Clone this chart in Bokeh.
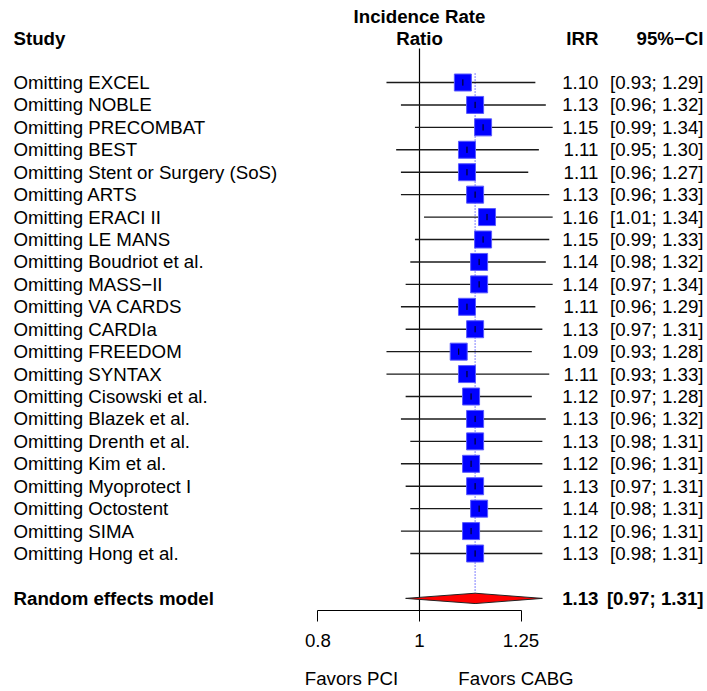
import numpy as np
from bokeh.plotting import figure
from bokeh.models import ColumnDataSource, Range1d, LogAxis, FixedTicker, Label
from bokeh.embed import file_html
from bokeh.resources import INLINE
from bokeh.core.properties import value

# ---------------- data ----------------
studies = ["Omitting EXCEL", "Omitting NOBLE", "Omitting PRECOMBAT", "Omitting BEST",
           "Omitting Stent or Surgery (SoS)", "Omitting ARTS", "Omitting ERACI II",
           "Omitting LE MANS", "Omitting Boudriot et al.", "Omitting MASS\u2212II",
           "Omitting VA CARDS", "Omitting CARDIa", "Omitting FREEDOM", "Omitting SYNTAX",
           "Omitting Cisowski et al.", "Omitting Blazek et al.", "Omitting Drenth et al.",
           "Omitting Kim et al.", "Omitting Myoprotect I", "Omitting Octostent",
           "Omitting SIMA", "Omitting Hong et al."]
irr = [1.10, 1.13, 1.15, 1.11, 1.11, 1.13, 1.16, 1.15, 1.14, 1.14, 1.11,
       1.13, 1.09, 1.11, 1.12, 1.13, 1.13, 1.12, 1.13, 1.14, 1.12, 1.13]
lower = [0.93, 0.96, 0.99, 0.95, 0.96, 0.96, 1.01, 0.99, 0.98, 0.97, 0.96,
         0.97, 0.93, 0.93, 0.97, 0.96, 0.98, 0.96, 0.97, 0.98, 0.96, 0.98]
upper = [1.29, 1.32, 1.34, 1.30, 1.27, 1.33, 1.34, 1.33, 1.32, 1.34, 1.29,
         1.31, 1.28, 1.33, 1.28, 1.32, 1.31, 1.31, 1.31, 1.31, 1.31, 1.31]
pooled_label = "Random effects model"
pooled_est = 1.13
pooled_lo = 0.97
pooled_hi = 1.31
tick_values = [0.8, 1.0, 1.25]
tick_labels = ["0.8", "1", "1.25"]
label_left = "Favors PCI"
label_right = "Favors CABG"

# ---------------- layout helpers ----------------
W, H = 707, 691
PX_ONE = 419.0      # px of ratio 1
PX_PER_LN = 455.0   # px per natural-log unit
PY_ROW0 = 82.0      # px of first row
ROW_PX = 22.43      # px per row


def xd(px):
    return float(np.exp((px - PX_ONE) / PX_PER_LN))


def yd(py):
    return (py - PY_ROW0) / ROW_PX


FONT_NAME = "Liberation Sans"
FONT = value(FONT_NAME)
FS = "18.7px"

n = len(studies)
rows = list(range(n))
pooled_row = n + 1
axis_row = yd(610)

src = ColumnDataSource(dict(
    study=studies, irr=irr, lower=lower, upper=upper, row=rows,
    row_lo=[r - 0.14 for r in rows], row_hi=[r + 0.14 for r in rows],
    irr_txt=[f"{v:.2f}" for v in irr],
    ci_txt=[f"[{l:.2f}; {u:.2f}]" for l, u in zip(lower, upper)],
))

p = figure(width=W, height=H, x_axis_type="log",
           x_range=Range1d(xd(0), xd(W)), y_range=Range1d(yd(H), yd(0)),
           x_axis_location=None, y_axis_location=None,
           output_backend="svg", toolbar_location=None, min_border=0,
           outline_line_color=None)
p.grid.visible = False

# reference line at 1 and pooled dotted line
p.segment(x0=[1.0], y0=[yd(48)], x1=[1.0], y1=[axis_row], line_color="black", line_width=1.2)
p.segment(x0=[pooled_est], y0=[-0.4], x1=[pooled_est], y1=[pooled_row - 0.25],
          line_color="blue", line_width=1, line_dash="1 2")

# CI lines, squares, small ticks
p.segment(x0="lower", y0="row", x1="upper", y1="row", source=src,
          line_color="#1a1a1a", line_width=1.4)
p.scatter(x="irr", y="row", source=src, marker="square", size=17,
          fill_color="#0000ff", line_color="#5a5aff", line_width=1)
p.segment(x0="irr", y0="row_lo", x1="irr", y1="row_hi", source=src,
          line_color="black", line_width=1)

# pooled diamond
p.patch(x=[pooled_lo, pooled_est, pooled_hi, pooled_est],
        y=[pooled_row, pooled_row - 0.23, pooled_row, pooled_row + 0.23],
        fill_color="#ff0000", line_color="#222222", line_width=1)

# text columns
p.text(x=xd(13), y="row", text="study", source=src, text_align="left",
       text_baseline="middle", text_font=FONT, text_font_size=FS, text_color="black")
p.text(x=xd(598), y="row", text="irr_txt", source=src, text_align="right",
       text_baseline="middle", text_font=FONT, text_font_size=FS, text_color="black")
p.text(x=xd(703), y="row", text="ci_txt", source=src, text_align="right",
       text_baseline="middle", text_font=FONT, text_font_size=FS, text_color="black")


def lab(x, y, text, align, bold=False):
    p.add_layout(Label(x=x, y=y, text=text, text_align=align, text_baseline="middle",
                       text_font=FONT_NAME, text_font_size=FS, text_color="black",
                       text_font_style="bold" if bold else "normal"))


lab(xd(13), pooled_row, pooled_label, "left", True)
lab(xd(598), pooled_row, f"{pooled_est:.2f}", "right", True)
lab(xd(703), pooled_row, f"[{pooled_lo:.2f}; {pooled_hi:.2f}]", "right", True)

# headers
lab(xd(13), yd(38), "Study", "left", True)
lab(1.0, yd(16), "Incidence Rate", "center", True)
lab(1.0, yd(38), "Ratio", "center", True)
lab(xd(598), yd(38), "IRR", "right", True)
lab(xd(703), yd(38), "95%\u2212CI", "right", True)

# x axis
ax = LogAxis(fixed_location=axis_row, bounds=(tick_values[0], tick_values[-1]),
             ticker=FixedTicker(ticks=tick_values, minor_ticks=[]),
             major_label_overrides={v: t for v, t in zip(tick_values, tick_labels)},
             axis_line_color="black", axis_line_width=1,
             major_tick_line_color="black", major_tick_out=11, major_tick_in=0,
             minor_tick_out=0, minor_tick_in=0,
             major_label_standoff=12, major_label_text_font=FONT_NAME,
             major_label_text_font_size=FS, major_label_text_color="black")
p.add_layout(ax, "below")

lab(xd(351), yd(678), label_left, "center")
lab(xd(515.5), yd(678), label_right, "center")

open("out.html", "w").write(file_html(p, INLINE))
